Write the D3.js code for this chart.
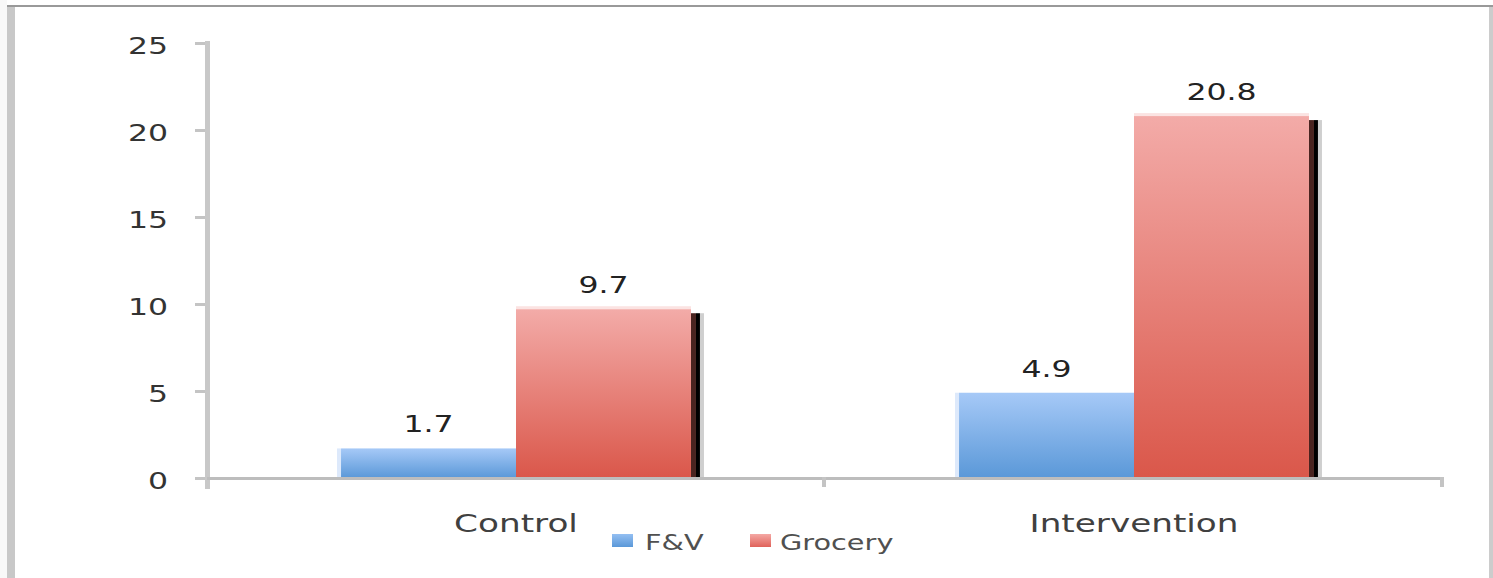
<!DOCTYPE html>
<html>
<head>
<meta charset="utf-8">
<script src="https://cdn.jsdelivr.net/npm/d3@7"></script>
<style>
  body { margin: 0; background: #fff; }
  svg { display: block; font-family: "DejaVu Sans", Verdana, sans-serif; }
</style>
</head>
<body>
<div id="svg_area"></div>
<script>
// chart data
var categories = ["Control", "Intervention"];
var seriesNames = ["F&V", "Grocery"];
var fvValues = [1.7, 4.9];
var groceryValues = [9.7, 20.8];
var yTicks = [0, 5, 10, 15, 20, 25];

var W = 1493, H = 578;
var SX = 1.37; // picture is stretched sideways, so text is too

var svg = d3.select("#svg_area").append("svg")
  .attr("width", W).attr("height", H);

// frame round the chart
svg.append("rect").attr("x", 0).attr("y", 0).attr("width", 7).attr("height", H).attr("fill", "#f8f8f8");
svg.append("rect").attr("x", 7).attr("y", 5).attr("width", 8).attr("height", H - 5).attr("fill", "#c8c8c8");
svg.append("rect").attr("x", 1489).attr("y", 5).attr("width", 4).attr("height", H - 5).attr("fill", "#cccccc");
svg.append("rect").attr("x", 7).attr("y", 5).attr("width", W - 7).attr("height", 2).attr("fill", "#999999");

var defs = svg.append("defs");
function grad(id, top, bottom) {
  var g = defs.append("linearGradient").attr("id", id)
    .attr("x1", 0).attr("y1", 0).attr("x2", 0).attr("y2", 1);
  g.append("stop").attr("offset", "0%").attr("stop-color", top);
  g.append("stop").attr("offset", "100%").attr("stop-color", bottom);
}
grad("gBlue", "#a6c9f7", "#5a98d8");
grad("gRed", "#f3aba8", "#da574a");
grad("gBlueLeg", "#94bff2", "#5a98d8");
grad("gRedLeg", "#f4a8a4", "#e0625a");

var fills = { "F&V": "url(#gBlue)", "Grocery": "url(#gRed)" };
var legFills = { "F&V": "url(#gBlueLeg)", "Grocery": "url(#gRedLeg)" };

var x0 = d3.scaleBand().domain(categories).range([207, 1443]);
var x1 = d3.scaleBand().domain(seriesNames).range([0, x0.bandwidth()]).paddingOuter(0.766);
var y = d3.scaleLinear().domain([0, 25]).range([478, 43]);

var data = [];
categories.forEach(function(c, i) {
  data.push({ cat: c, s: "F&V", v: fvValues[i] });
  data.push({ cat: c, s: "Grocery", v: groceryValues[i] });
});

// y axis
var yAxis = svg.append("g").attr("transform", "translate(207,0)")
  .call(d3.axisLeft(y).tickValues(yTicks).tickSize(12).tickPadding(0).tickFormat(d3.format("d")));
yAxis.select(".domain").remove();
yAxis.selectAll(".tick line").attr("stroke", "#c4c4c4").attr("stroke-width", 3);
yAxis.selectAll(".tick text").remove();
svg.append("rect").attr("x", 205).attr("y", 41).attr("width", 5).attr("height", 448).attr("fill", "#c8c8c8");

yTicks.forEach(function(t) {
  svg.append("text")
    .attr("transform", "translate(168," + (y(t) + 11) + ") scale(" + SX + ",1)")
    .attr("text-anchor", "end")
    .attr("font-size", 23)
    .attr("fill", "#333")
    .text(t);
});

// bars
var bars = svg.append("g");
bars.selectAll(".shadow").data(data).enter().append("g").each(function(d) {
  var bx = x0(d.cat) + x1(d.s) + x1.bandwidth();
  var top = y(d.v) + 4;
  d3.select(this).append("rect").attr("x", bx).attr("y", top).attr("width", 5)
    .attr("height", y(0) - top).attr("fill", "#4a2420");
  d3.select(this).append("rect").attr("x", bx + 5).attr("y", top).attr("width", 4)
    .attr("height", y(0) - top).attr("fill", "#000");
  d3.select(this).append("rect").attr("x", bx + 9).attr("y", top).attr("width", 4)
    .attr("height", y(0) - top).attr("fill", "#cfcfcf");
});
data.forEach(function(d) {
  var g = bars.append("g");
  if (d.s === "F&V") {
    g.append("rect")
      .attr("x", x0(d.cat) + x1(d.s) - 4).attr("y", y(d.v))
      .attr("width", 4).attr("height", y(0) - y(d.v))
      .attr("fill", "#dde9fb");
  } else {
    g.append("rect")
      .attr("x", x0(d.cat) + x1(d.s)).attr("y", y(d.v) - 3)
      .attr("width", x1.bandwidth()).attr("height", 3)
      .attr("fill", "#fbe3e2");
  }
  g.append("rect")
    .attr("x", x0(d.cat) + x1(d.s)).attr("y", y(d.v))
    .attr("width", x1.bandwidth()).attr("height", y(0) - y(d.v))
    .attr("fill", fills[d.s]);
});

// x axis
svg.append("rect").attr("x", 207).attr("y", 477).attr("width", 1237).attr("height", 3).attr("fill", "#bdbdbd");
var xTickPos = [x0(categories[1]), x0(categories[1]) + x0.bandwidth()];
xTickPos.forEach(function(p) {
  svg.append("rect").attr("x", p - 3).attr("y", 477).attr("width", 4).attr("height", 10).attr("fill", "#c4c4c4");
});

// value labels
data.forEach(function(d) {
  svg.append("text")
    .attr("transform", "translate(" + (x0(d.cat) + x1(d.s) + x1.bandwidth() / 2) + "," + (y(d.v) - 16) + ") scale(" + SX + ",1)")
    .attr("text-anchor", "middle")
    .attr("font-size", 23)
    .attr("fill", "#222")
    .text(d.v.toFixed(1));
});

// category labels
categories.forEach(function(c) {
  svg.append("text")
    .attr("transform", "translate(" + (x0(c) + x0.bandwidth() / 2) + ",532) scale(" + SX + ",1)")
    .attr("text-anchor", "middle")
    .attr("font-size", 25)
    .attr("fill", "#404040")
    .text(c);
});

// legend
var legX = [612, 750];
var legTextX = [645, 780];
seriesNames.forEach(function(s, i) {
  svg.append("rect").attr("x", legX[i]).attr("y", 534).attr("width", 21).attr("height", 13)
    .attr("fill", legFills[s]);
  svg.append("text")
    .attr("transform", "translate(" + legTextX[i] + ",550) scale(" + SX + ",1)")
    .attr("font-size", 21)
    .attr("fill", "#505050")
    .text(s);
});
</script>
</body>
</html>
